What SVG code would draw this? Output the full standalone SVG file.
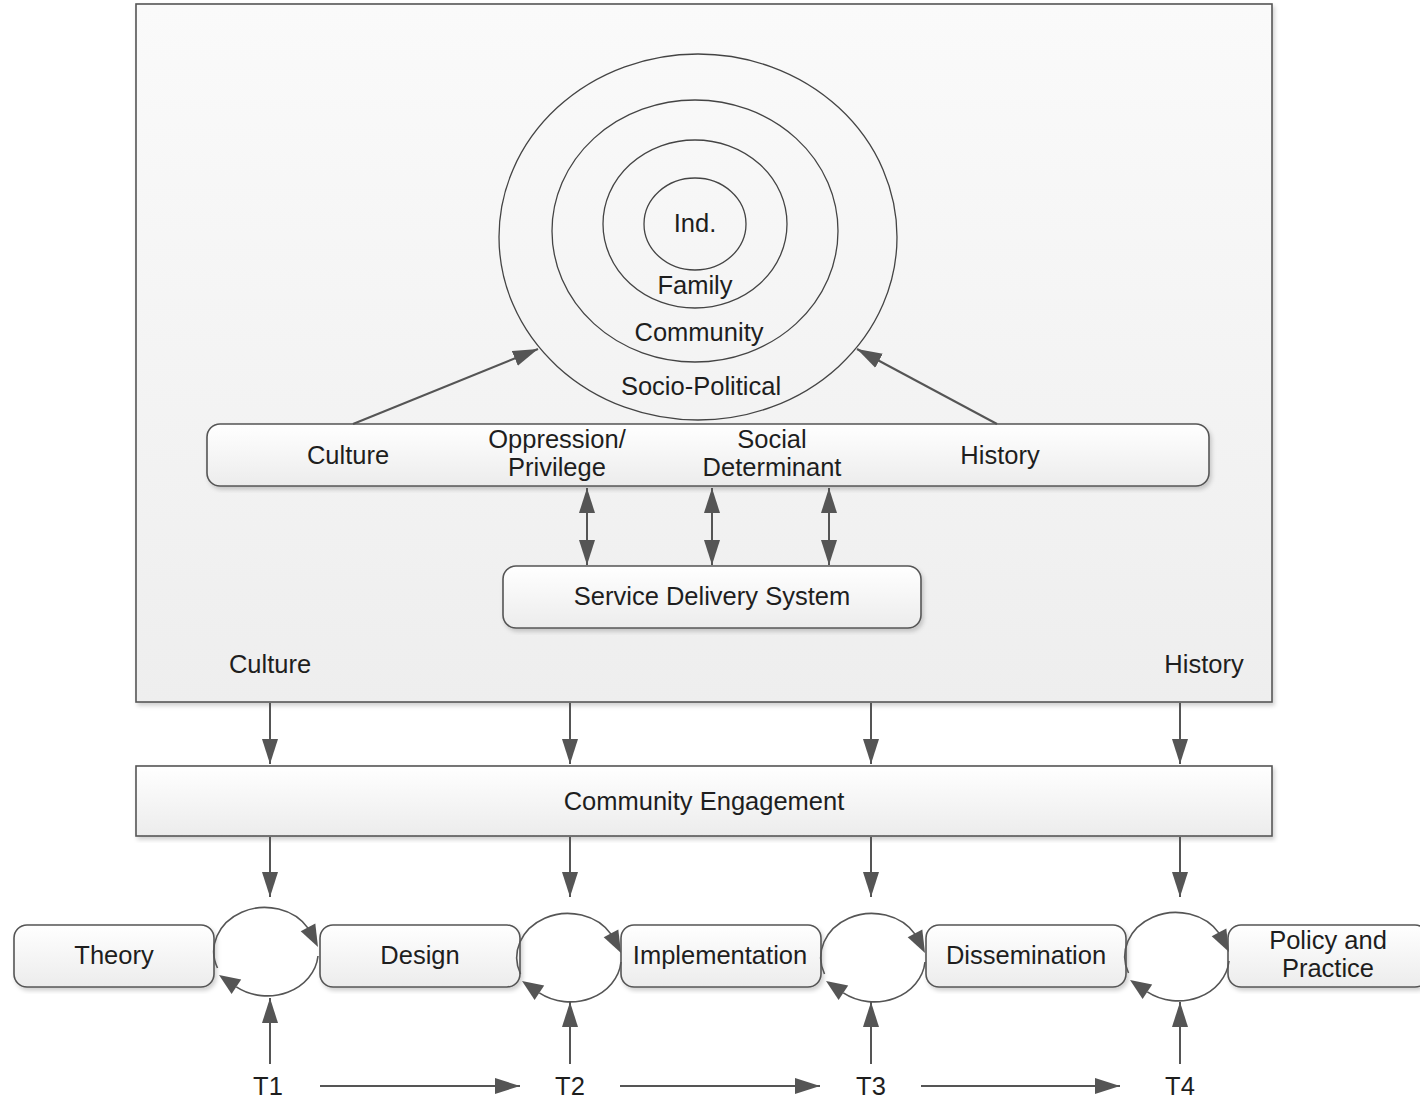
<svg xmlns="http://www.w3.org/2000/svg" width="1420" height="1098" viewBox="0 0 1420 1098">
<style>
text{font-family:"Liberation Sans",Arial,sans-serif;font-size:25.5px;fill:#1e1e1e;text-anchor:middle}
.box{stroke:#555;stroke-width:1.6}
.rbox{fill:url(#gbox);stroke:#555;stroke-width:1.6}
.ring{fill:none;stroke:#444;stroke-width:1.3}
.ln{fill:none;stroke:#555;stroke-width:2}
.arr{marker-end:url(#ah)}
.dbl{marker-start:url(#ah);marker-end:url(#ah)}
.cyc{fill:none;stroke:#555;stroke-width:1.6}
.head{fill:#555}
</style>
<defs>
<linearGradient id="gframe" x1="0" y1="0" x2="0" y2="1"><stop offset="0" stop-color="#fafafa"/><stop offset="1" stop-color="#eeeeee"/></linearGradient>
<linearGradient id="gbox" x1="0" y1="0" x2="0" y2="1"><stop offset="0" stop-color="#ffffff"/><stop offset="1" stop-color="#ececec"/></linearGradient>
<filter id="sh" x="-5%" y="-5%" width="110%" height="115%"><feDropShadow dx="2" dy="3" stdDeviation="2" flood-color="#000" flood-opacity="0.18"/></filter>
<marker id="ah" markerUnits="userSpaceOnUse" markerWidth="26" markerHeight="18" refX="25" refY="8" orient="auto-start-reverse" viewBox="0 0 26 16"><path d="M0,0 L25,8 L0,16 z" fill="#555"/></marker>
<g id="cycle">
<path d="M217.5,968 A51,44 0 0 1 308.2,928.4" class="cyc"/>
<polygon points="318,947 315.3,923.4 300.7,931.2" class="head"/>
<path d="M318,956 A51,44 0 0 1 236.3,986.9" class="cyc"/>
<polygon points="219,975 241.2,979.6 231.6,994" class="head"/>
</g>
</defs>
<rect width="1420" height="1098" fill="#fff"/>

<g id="frame"><rect x="136" y="4" width="1136" height="698" fill="url(#gframe)" class="box" filter="url(#sh)"/></g>

<g id="rings">
<ellipse cx="698" cy="237" rx="199" ry="183" class="ring"/>
<ellipse cx="695" cy="231" rx="143" ry="131" class="ring"/>
<ellipse cx="695" cy="224" rx="92" ry="84" class="ring"/>
<ellipse cx="695" cy="224" rx="51" ry="46" class="ring"/>
<text x="695" y="232">Ind.</text>
<text x="695" y="294">Family</text>
<text x="699" y="341">Community</text>
<text x="701" y="395">Socio-Political</text>
</g>

<g id="factors">
<rect x="207" y="424" width="1002" height="62" rx="13" class="rbox" filter="url(#sh)"/>
<text x="348" y="464">Culture</text>
<text x="557" y="448">Oppression/</text>
<text x="557" y="476">Privilege</text>
<text x="772" y="448">Social</text>
<text x="772" y="476">Determinant</text>
<text x="1000" y="464">History</text>
</g>

<g id="service">
<rect x="503" y="566" width="418" height="62" rx="13" class="rbox" filter="url(#sh)"/>
<text x="712" y="605">Service Delivery System</text>
</g>

<g id="frame-labels">
<text x="270" y="673">Culture</text>
<text x="1204" y="673">History</text>
</g>

<g id="engagement">
<rect x="136" y="766" width="1136" height="70" fill="url(#gbox)" class="box" filter="url(#sh)"/>
<text x="704" y="810">Community Engagement</text>
</g>

<g id="theory"><rect x="14" y="925" width="200" height="62" rx="13" class="rbox" filter="url(#sh)"/><text x="114" y="964">Theory</text></g>
<g id="design"><rect x="320" y="925" width="200" height="62" rx="13" class="rbox" filter="url(#sh)"/><text x="420" y="964">Design</text></g>
<g id="implementation"><rect x="621" y="925" width="200" height="62" rx="13" class="rbox" filter="url(#sh)"/><text x="720" y="964">Implementation</text></g>
<g id="dissemination"><rect x="926" y="925" width="200" height="62" rx="13" class="rbox" filter="url(#sh)"/><text x="1026" y="964">Dissemination</text></g>
<g id="policy"><rect x="1228" y="925" width="200" height="62" rx="13" class="rbox" filter="url(#sh)"/><text x="1328" y="949">Policy and</text><text x="1328" y="977">Practice</text></g>

<g id="time-labels">
<text x="268" y="1095">T1</text>
<text x="570" y="1095">T2</text>
<text x="871" y="1095">T3</text>
<text x="1180" y="1095">T4</text>
</g>

<g id="connectors">
<line x1="353" y1="424" x2="538" y2="349" class="ln arr"/>
<line x1="997" y1="424" x2="857" y2="349" class="ln arr"/>
<line x1="587" y1="488" x2="587" y2="565" class="ln dbl"/>
<line x1="712" y1="488" x2="712" y2="565" class="ln dbl"/>
<line x1="829" y1="488" x2="829" y2="565" class="ln dbl"/>
<line x1="270" y1="703" x2="270" y2="764" class="ln arr"/>
<line x1="570" y1="703" x2="570" y2="764" class="ln arr"/>
<line x1="871" y1="703" x2="871" y2="764" class="ln arr"/>
<line x1="1180" y1="703" x2="1180" y2="764" class="ln arr"/>
<line x1="270" y1="837" x2="270" y2="897" class="ln arr"/>
<line x1="570" y1="837" x2="570" y2="897" class="ln arr"/>
<line x1="871" y1="837" x2="871" y2="897" class="ln arr"/>
<line x1="1180" y1="837" x2="1180" y2="897" class="ln arr"/>
<line x1="270" y1="1064" x2="270" y2="998" class="ln arr"/>
<line x1="570" y1="1064" x2="570" y2="1002" class="ln arr"/>
<line x1="871" y1="1064" x2="871" y2="1002" class="ln arr"/>
<line x1="1180" y1="1064" x2="1180" y2="1002" class="ln arr"/>
<line x1="320" y1="1086" x2="520" y2="1086" class="ln arr"/>
<line x1="620" y1="1086" x2="820" y2="1086" class="ln arr"/>
<line x1="921" y1="1086" x2="1120" y2="1086" class="ln arr"/>
<use href="#cycle"/>
<use href="#cycle" transform="translate(303,6)"/>
<use href="#cycle" transform="translate(607,6)"/>
<use href="#cycle" transform="translate(911,5)"/>
</g>
</svg>
